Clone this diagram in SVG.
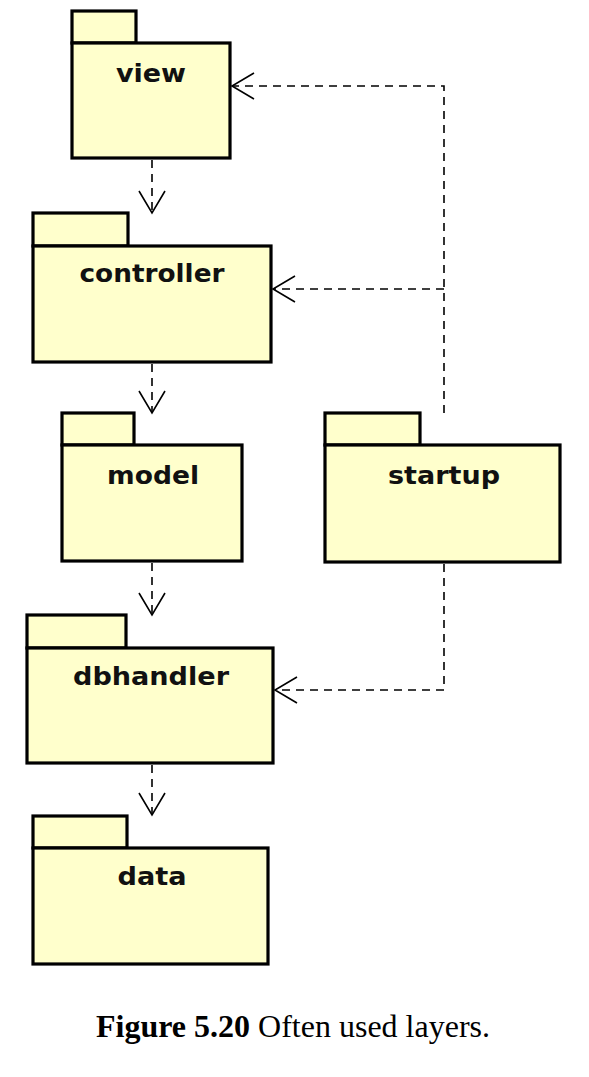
<svg xmlns="http://www.w3.org/2000/svg" width="589" height="1077" viewBox="0 0 589 1077">
<style>
.pk{fill:#FFFFCC;stroke:#000;stroke-width:3.2}
.lbl{font-family:"DejaVu Sans",sans-serif;font-weight:bold;font-size:24px;fill:#111;text-anchor:middle}
.dep{fill:none;stroke:#000;stroke-width:1.6;stroke-dasharray:8,6}
.cap{font-family:"Liberation Serif",serif;font-size:32px;fill:#000}
</style>
<defs>
<marker id="open" markerUnits="userSpaceOnUse" markerWidth="30" markerHeight="30" viewBox="-24 -15 26 30" refX="0" refY="0" orient="auto">
<path d="M-22,-13 L0,0 L-22,13" fill="none" stroke="#000" stroke-width="1.6"/>
</marker>
</defs>
<rect width="589" height="1077" fill="#fff"/>
<g id="view">
<rect class="pk" x="72" y="11" width="64" height="32"/>
<rect class="pk" x="72" y="43" width="158" height="115"/>
<text class="lbl" x="151" y="82" textLength="70" lengthAdjust="spacingAndGlyphs">view</text>
</g>
<g id="controller">
<rect class="pk" x="33" y="213" width="95" height="33"/>
<rect class="pk" x="33" y="246" width="238" height="116"/>
<text class="lbl" x="152" y="282" textLength="145" lengthAdjust="spacingAndGlyphs">controller</text>
</g>
<g id="model">
<rect class="pk" x="62" y="413" width="72" height="32"/>
<rect class="pk" x="62" y="445" width="180" height="116"/>
<text class="lbl" x="153" y="484" textLength="92" lengthAdjust="spacingAndGlyphs">model</text>
</g>
<g id="startup">
<rect class="pk" x="325" y="413" width="95" height="32"/>
<rect class="pk" x="325" y="445" width="235" height="117"/>
<text class="lbl" x="444" y="484" textLength="112" lengthAdjust="spacingAndGlyphs">startup</text>
</g>
<g id="dbhandler">
<rect class="pk" x="27" y="615" width="99" height="33"/>
<rect class="pk" x="27" y="648" width="246" height="115"/>
<text class="lbl" x="151" y="685" textLength="156" lengthAdjust="spacingAndGlyphs">dbhandler</text>
</g>
<g id="data">
<rect class="pk" x="33" y="816" width="94" height="32"/>
<rect class="pk" x="33" y="848" width="235" height="116"/>
<text class="lbl" x="152" y="885" textLength="69" lengthAdjust="spacingAndGlyphs">data</text>
</g>
<g id="connectors">
<path class="dep" d="M152,160 L152,213" marker-end="url(#open)"/>
<path class="dep" d="M152,364 L152,413" marker-end="url(#open)"/>
<path class="dep" d="M152,563 L152,615" marker-end="url(#open)"/>
<path class="dep" d="M152,765 L152,815" marker-end="url(#open)"/>
<path class="dep" d="M444,413 L444,86 L232,86" marker-end="url(#open)"/>
<path class="dep" d="M444,289 L273,289" marker-end="url(#open)"/>
<path class="dep" d="M444,564 L444,690 L275,690" marker-end="url(#open)"/>
</g>
<text class="cap" x="293" y="1037" text-anchor="middle"><tspan font-weight="bold">Figure 5.20</tspan> Often used layers.</text>
</svg>
